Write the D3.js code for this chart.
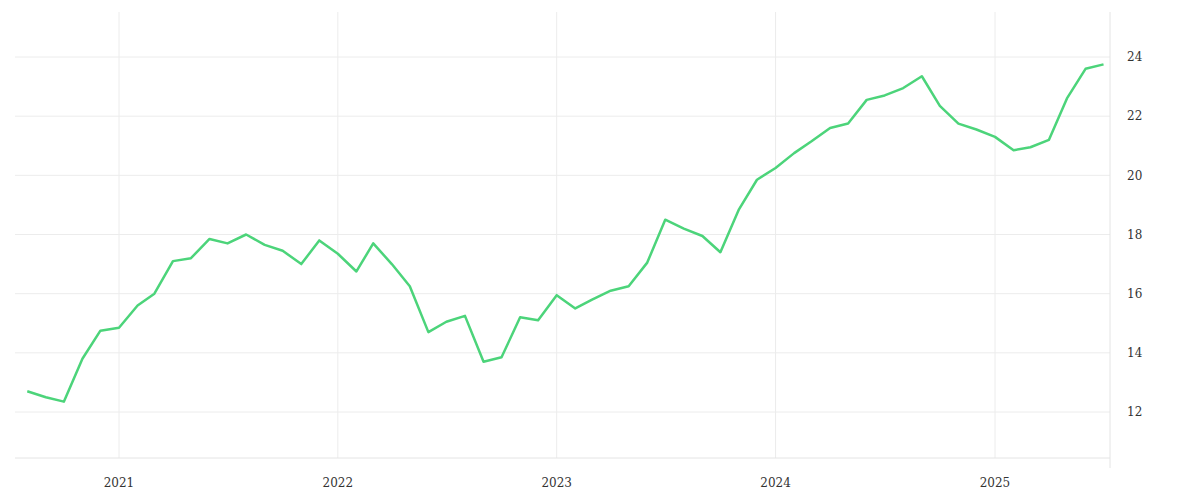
<!DOCTYPE html>
<html>
<head>
<meta charset="utf-8">
<script src="https://cdn.jsdelivr.net/npm/d3@7"></script>
<style>
  body { margin: 0; background: #fff; }
  text { font-family: "DejaVu Serif", serif; font-size: 12px; fill: #333; }
</style>
</head>
<body>
<script>
const startMonth = '2020-08'
const values = [
  12.7, 12.5, 12.35, 13.8, 14.75,
  14.85, 15.6, 16.0, 17.1, 17.2, 17.85, 17.7, 18.0, 17.65, 17.45, 17.0, 17.8,
  17.35, 16.75, 17.7, 17.0, 16.25, 14.7, 15.05, 15.25, 13.7, 13.85, 15.2, 15.1,
  15.95, 15.5, 15.8, 16.1, 16.25, 17.05, 18.5, 18.2, 17.95, 17.4, 18.85, 19.85,
  20.25, 20.75, 21.15, 21.6, 21.75, 22.55, 22.7, 22.95, 23.35, 22.35, 21.75, 21.55,
  21.3, 20.85, 20.95, 21.2, 22.6, 23.6, 23.75
]
const yTicks = [12, 14, 16, 18, 20, 22, 24]
const yearTicks = [2021, 2022, 2023, 2024, 2025]

const parse = d3.timeParse('%Y-%m')
const t0 = parse(startMonth)
const data = values.map((v, i) => ({ date: d3.timeMonth.offset(t0, i), value: v }))

const width = 1200, height = 500
const svg = d3.select('body').append('svg').attr('width', width).attr('height', height)

// 2021-01 sits at x=119, 2025-01 at x=995
const x = d3.scaleTime()
  .domain([new Date(2021, 0, 1), new Date(2025, 0, 1)])
  .range([119, 995])
const y = d3.scaleLinear().domain([12, 24]).range([412, 57])

const plotLeft = 15, plotRight = 1110, plotTop = 12, plotBottom = 458

// grid
svg.append('g').selectAll('line').data(yTicks).join('line')
  .attr('x1', plotLeft).attr('x2', plotRight)
  .attr('y1', d => y(d)).attr('y2', d => y(d))
  .attr('stroke', '#ececec')
svg.append('g').selectAll('line').data(yearTicks).join('line')
  .attr('x1', d => x(new Date(d, 0, 1))).attr('x2', d => x(new Date(d, 0, 1)))
  .attr('y1', plotTop).attr('y2', plotBottom)
  .attr('stroke', '#ececec')
svg.append('line').attr('x1', plotLeft).attr('x2', plotRight).attr('y1', plotBottom).attr('y2', plotBottom).attr('stroke', '#e4e4e4')
svg.append('line').attr('x1', plotRight).attr('x2', plotRight).attr('y1', plotTop).attr('y2', 468).attr('stroke', '#e4e4e4')

// labels
svg.append('g').selectAll('text').data(yTicks).join('text')
  .attr('x', 1127).attr('y', d => y(d)).attr('dy', '0.35em')
  .text(d => d)
svg.append('g').selectAll('text').data(yearTicks).join('text')
  .attr('x', d => x(new Date(d, 0, 1))).attr('y', 487)
  .attr('text-anchor', 'middle')
  .text(d => d)

const line = d3.line().x(d => x(d.date)).y(d => y(d.value))
svg.append('path').datum(data)
  .attr('d', line)
  .attr('fill', 'none')
  .attr('stroke', '#4cd47a')
  .attr('stroke-width', 2.5)
  .attr('stroke-linejoin', 'round')
</script>
</body>
</html>
